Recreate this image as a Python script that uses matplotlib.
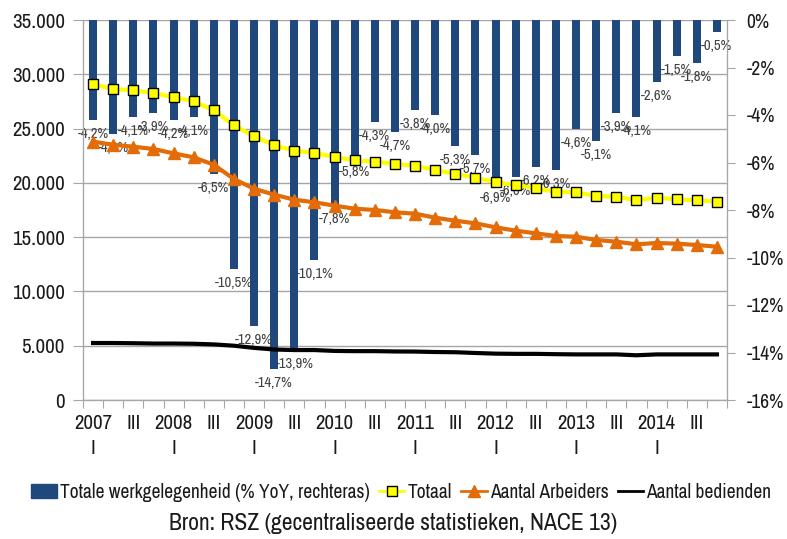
import matplotlib
matplotlib.use("Agg")
import matplotlib.pyplot as plt
from matplotlib.lines import Line2D
from matplotlib.patches import Patch
import numpy as np

plt.rcParams['font.family'] = ['Archivo Narrow', 'Liberation Sans', 'DejaVu Sans']

years = [2007, 2008, 2009, 2010, 2011, 2012, 2013, 2014]
quarters = ["I", "II", "III", "IV"]

yoy = [-4.2, -4.8, -4.1, -3.9, -4.2, -4.1, -6.5, -10.5, -12.9, -14.7, -13.9, -10.1,
       -7.8, -5.8, -4.3, -4.7, -3.8, -4.0, -5.3, -5.7, -6.9, -6.6, -6.2, -6.3,
       -4.6, -5.1, -3.9, -4.1, -2.6, -1.5, -1.8, -0.5]

totaal = [29080, 28640, 28520, 28280, 27880, 27510, 26680, 25300, 24290, 23460, 22960, 22750,
          22380, 22080, 21950, 21740, 21580, 21190, 20820, 20480, 20050, 19800, 19500, 19160,
          19130, 18790, 18730, 18390, 18630, 18480, 18390, 18270]

arbeiders = [23790, 23510, 23330, 23120, 22720, 22350, 21670, 20350, 19460, 18910, 18450, 18210,
             17900, 17620, 17500, 17290, 17160, 16790, 16515, 16270, 15905, 15595, 15350, 15105,
             15040, 14740, 14580, 14340, 14460, 14400, 14275, 14120]

bedienden = [5250, 5250, 5230, 5200, 5200, 5180, 5120, 5000, 4800, 4650, 4600, 4600,
             4520, 4500, 4500, 4470, 4460, 4420, 4400, 4330, 4270, 4250, 4250, 4220,
             4200, 4200, 4200, 4120, 4200, 4200, 4200, 4200]

labels = []
for y in years:
    for q in quarters:
        if q == "I":
            labels.append(f"{y}\nI")
        elif q == "III":
            labels.append("III")
        else:
            labels.append("")

BLUE = "#1F497D"
YELLOW = "#FFFF00"
ORANGE = "#E36C09"
GRID = "#A6A6A6"
TXT = "#1A1A1A"

fig = plt.figure(figsize=(7.87, 5.39), dpi=100)
ax = fig.add_axes([83/787, 1-400/539, (727-83)/787, 380/539])
ax2 = ax.twinx()
ax3 = ax.twinx()

x = np.arange(len(yoy))

# base axis: grid and left scale
ax.set_xlim(-0.5, len(yoy) - 0.5)
ax.set_ylim(0, 35000)
ax.set_yticks(np.arange(0, 35001, 5000))
ax.set_yticklabels([f"{v:,.0f}".replace(",", ".") for v in np.arange(0, 35001, 5000)])
ax.grid(axis='y', color=GRID, linewidth=1)
ax.set_axisbelow(True)
ax.tick_params(axis='y', length=7, color=GRID, labelsize=15, labelcolor=TXT, pad=6)

# x ticks
ax.set_xticks(np.arange(-0.5, len(yoy), 1))
ax.set_xticklabels([])
ax.set_xticks(x, minor=True)
ax.set_xticklabels(labels, minor=True, fontsize=15, color=TXT, linespacing=1.4)
ax.tick_params(axis='x', which='major', length=6, color=GRID)
ax.tick_params(axis='x', which='minor', length=0, pad=10)

for a in (ax, ax2, ax3):
    a.spines['top'].set_visible(False)
    for s in ('left', 'right', 'bottom'):
        a.spines[s].set_color(GRID)

# bars on right axis
ax2.bar(x, yoy, width=0.4, color=BLUE, zorder=2)
ax2.set_ylim(-16, 0)
ax2.set_yticks(np.arange(-16, 1, 2))
ax2.set_yticklabels([f"{v}%" for v in range(-16, 1, 2)])
ax2.tick_params(axis='y', length=6, color=GRID, labelsize=14, labelcolor=TXT, pad=8)
for xi, v in zip(x, yoy):
    ax2.annotate(f"{v:.1f}%".replace(".", ","), (xi, v), xytext=(0, -14),
                 textcoords='offset pixels', ha='center', va='center',
                 fontsize=10.5, color="#404040")

# lines on top
ax3.set_ylim(0, 35000)
ax3.yaxis.set_visible(False)
ax3.plot(x, bedienden, color='black', linewidth=3, zorder=3)
ax3.plot(x, arbeiders, color=ORANGE, linewidth=3, marker='^', markersize=8.5,
         markerfacecolor=ORANGE, markeredgecolor=ORANGE, zorder=4)
ax3.plot(x, totaal, color=YELLOW, linewidth=3, marker='s', markersize=7.5,
         markerfacecolor=YELLOW, markeredgecolor='black', markeredgewidth=1, zorder=5)

handles = [
    Patch(facecolor=BLUE, edgecolor=BLUE),
    Line2D([0], [0], color=YELLOW, linewidth=2, marker='s', markersize=7,
           markerfacecolor=YELLOW, markeredgecolor='black'),
    Line2D([0], [0], color=ORANGE, linewidth=2, marker='^', markersize=8,
           markerfacecolor=ORANGE, markeredgecolor=ORANGE),
    Line2D([0], [0], color='black', linewidth=2),
]
names = ["Totale werkgelegenheid (% YoY, rechteras)", "Totaal", "Aantal Arbeiders", "Aantal bedienden"]
fig.legend(handles, names, loc='center', bbox_to_anchor=(0.51, 1-492/539), ncol=4,
           frameon=False, fontsize=14, handlelength=1.3, handletextpad=0.15,
           columnspacing=0.5, labelcolor=TXT)

fig.text(0.5, 1-523/539, "Bron: RSZ (gecentraliseerde statistieken, NACE 13)",
         ha='center', va='center', fontsize=17, color=TXT)

fig.savefig("out.png", dpi=100)
